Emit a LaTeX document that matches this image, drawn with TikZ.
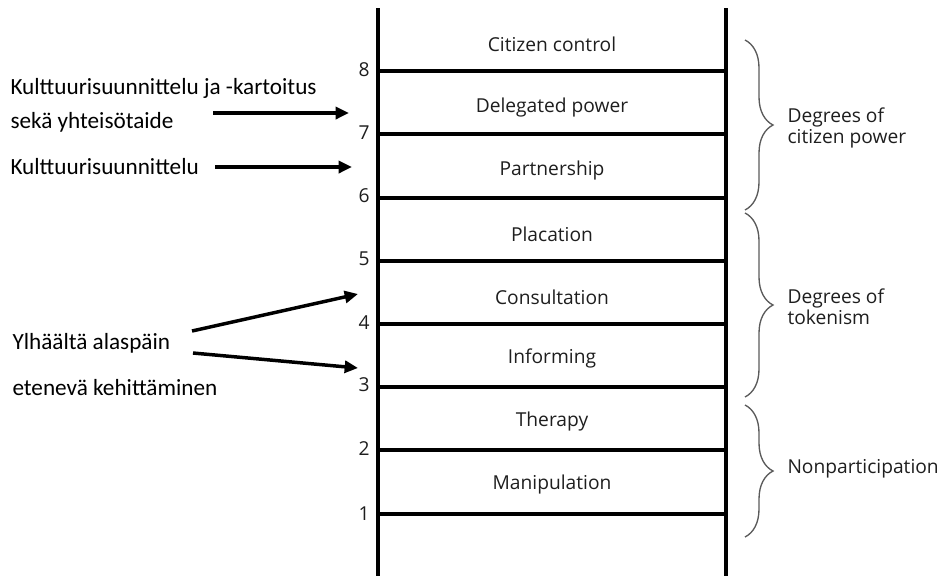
\documentclass[tikz,border=0pt]{standalone}
\usepackage{fontspec}
\setmainfont{Carlito}
\newfontfamily\uifont{Open Sans}
\usetikzlibrary{arrows.meta,decorations.pathreplacing}
\definecolor{ink}{RGB}{30,30,30}
\definecolor{bracegray}{RGB}{90,90,90}

\tikzset{every picture/.style={line width=0.75pt}}
\tikzset{
  rail/.style={line width=2.7pt},
  rung/.style={line width=2.3pt},
  pointer/.style={line width=2.6pt,-{Triangle[length=10pt,width=9pt]}},
  brc/.style={draw=bracegray,line width=1pt,decorate,decoration={brace,amplitude=21pt}},
  rungtxt/.style={font=\uifont\fontsize{14.4}{15.5}\selectfont,text=ink,inner sep=0.75pt},
  leftxt/.style={font=\fontsize{17.4}{20}\selectfont,inner sep=0.75pt}
}

\begin{document}
\begin{tikzpicture}[x=0.75pt,y=0.75pt,yscale=-1,xscale=1]
\useasboundingbox (0,0) rectangle (944,576);

%Straight Lines [rails]
\draw [rail] (378,8) -- (378,576) ;
\draw [rail] (726,8) -- (726,576) ;
%Straight Lines [rungs]
\draw [rung] (378,71) -- (726,71) ;
\draw [rung] (378,134) -- (726,134) ;
\draw [rung] (378,198) -- (726,198) ;
\draw [rung] (378,261) -- (726,261) ;
\draw [rung] (378,324) -- (726,324) ;
\draw [rung] (378,387) -- (726,387) ;
\draw [rung] (378,450) -- (726,450) ;
\draw [rung] (378,514) -- (726,514) ;

% Rung numbers
\draw (371,70) node [anchor=east] [rungtxt] (n8) {8};
\draw (371,133) node [anchor=east] [rungtxt] (n7) {7};
\draw (371,196) node [anchor=east] [rungtxt] (n6) {6};
\draw (371,259) node [anchor=east] [rungtxt] (n5) {5};
\draw (371,323) node [anchor=east] [rungtxt] (n4) {4};
\draw (371,385) node [anchor=east] [rungtxt] (n3) {3};
\draw (371,449) node [anchor=east] [rungtxt] (n2) {2};
\draw (371,514) node [anchor=east] [rungtxt] (n1) {1};

% Text Node
\draw (552,44) node [rungtxt] (citizen) {Citizen control};
% Text Node
\draw (552,108) node [rungtxt] (delegated) {Delegated power};
% Text Node
\draw (552,171) node [rungtxt] (partner) {Partnership};
% Text Node
\draw (552,234) node [rungtxt] (placation) {Placation};
% Text Node
\draw (552,297) node [rungtxt] (consult) {Consultation};
% Text Node
\draw (552,358) node [rungtxt] (inform) {Informing};
% Text Node
\draw (552,421) node [rungtxt] (therapy) {Therapy};
% Text Node
\draw (552,484) node [rungtxt] (manip) {Manipulation};

%Braces
\draw [brc] (745,40) -- (745,210) ;
\draw [brc] (745,213) -- (745,397) ;
\draw [brc] (745,405) -- (745,537) ;

% Text Node
\draw (786,128) node [anchor=west] [rungtxt] [align=left] (power) {Degrees of\\citizen power};
% Text Node
\draw (786,307) node [anchor=west] [rungtxt] [align=left] (token) {Degrees of\\tokenism};
% Text Node
\draw (786,469) node [anchor=west] [rungtxt] (nonpart) {Nonparticipation};

% Text Node
\draw (9,88) node [anchor=west] [leftxt] (kartoitus) {Kulttuurisuunnittelu ja -kartoitus};
% Text Node
\draw (9,122) node [anchor=west] [leftxt] (yhteiso) {sekä yhteisötaide};
% Text Node
\draw (9,167) node [anchor=west] [leftxt] (suunn) {Kulttuurisuunnittelu};
% Text Node
\draw (11,343) node [anchor=west] [leftxt] (ylhaalta) {Ylhäältä alaspäin};
% Text Node
\draw (11,388) node [anchor=west] [leftxt] (etenev) {etenevä kehittäminen};

%Arrows
\coordinate (p1s) at (213,113) ;
\coordinate (p1e) at (349,113) ;
\coordinate (p2s) at (215,167) ;
\coordinate (p2e) at (352,167) ;
\coordinate (p3s) at (192,331) ;
\coordinate (p3e) at (358,294) ;
\coordinate (p4s) at (193,353) ;
\coordinate (p4e) at (358,368) ;
\draw [pointer] (p1s) -- (p1e) ;
\draw [pointer] (p2s) -- (p2e) ;
\draw [pointer] (p3s) -- (p3e) ;
\draw [pointer] (p4s) -- (p4e) ;

\end{tikzpicture}
\end{document}
